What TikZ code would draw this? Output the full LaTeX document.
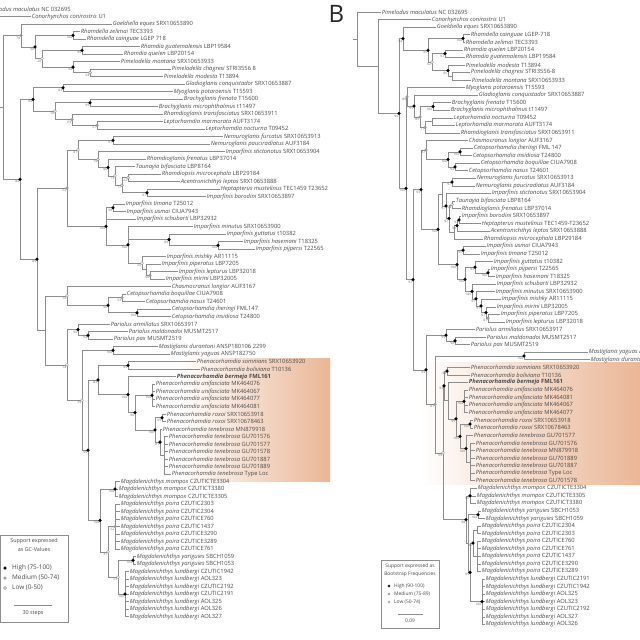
\documentclass[tikz,border=0pt]{standalone}
\usepackage{fontspec}
\setmainfont{Open Sans}
\usetikzlibrary{calc}
\pgfdeclarelayer{fg}
\pgfsetlayers{main,fg}
\definecolor{txt}{HTML}{4A4A4A}
\definecolor{brc}{HTML}{8E8E8E}
\definecolor{medc}{HTML}{9C9C9C}
\definecolor{peach}{RGB}{234,182,150}
\tikzset{
 br/.style={draw=brc,line width=0.55pt},
 leaf/.style={anchor=west,inner sep=0.7pt,font=\fontsize{5.8}{6}\selectfont,text=txt},
 sup/.style={anchor=north east,inner sep=0pt,font=\fontsize{3.2}{3.4}\selectfont,text=txt!85},
 hi/.style={circle,fill=black,draw=black,line width=0.2pt,inner sep=0pt,minimum size=3pt},
 med/.style={circle,fill=medc,draw=medc,line width=0.2pt,inner sep=0pt,minimum size=3pt},
 lo/.style={circle,fill=white,draw=brc,line width=0.4pt,inner sep=0pt,minimum size=3pt},
 lghead/.style={font=\fontsize{5.4}{6}\selectfont,text=txt,inner sep=0pt},
 lgitem/.style={font=\fontsize{6.4}{7}\selectfont,text=txt,inner sep=0pt,anchor=west},
 lgheadb/.style={font=\fontsize{4.9}{5.5}\selectfont,text=txt,inner sep=0pt},
 lgitemb/.style={font=\fontsize{4.9}{5.5}\selectfont,text=txt,inner sep=0pt,anchor=west},
 lgbox/.style={draw=brc,line width=0.6pt},
}
\newcommand\lf[5]{\coordinate (#1) at (#2,#3); \node[leaf] (#1t) at (#1) {\textit{#4} #5};}
\newcommand\lfb[5]{\coordinate (#1) at (#2,#3); \node[leaf] (#1t) at (#1) {\textbf{\textit{#4} #5}};}
\newcommand\nd[4]{%
  \gdef\fc{}%
  \foreach \ch in {#4}{\ifx\fc\empty\xdef\fc{\ch}\fi\xdef\lc{\ch}}%
  \coordinate (#1mid) at ($(\fc)!0.5!(\lc)$);
  \coordinate (#1) at (#2,0 |- #1mid);
  \foreach \ch in {#4}{\draw[br] (#1) |- (\ch);}%
  \ifx\relax#3\relax\else
  \begin{pgfonlayer}{fg}
    \ifnum#3<\tlo\relax \node[lo] (#1m) at (#1) {};%
    \else\ifnum#3<\thi\relax \node[med] (#1m) at (#1) {};%
    \else \node[hi] (#1m) at (#1) {};\fi\fi
    \node[sup] (#1s) at ([xshift=-0.7pt,yshift=-1pt]#1) {#3};
  \end{pgfonlayer}\fi}
\begin{document}
\begin{tikzpicture}[x=1pt,y=-1pt]
\useasboundingbox (0,0) rectangle (640,640);
\fill[white] (0,0) rectangle (640,640);
% highlight boxes
\fill[left color=white,right color=peach] (178,358) rectangle (330,481);
\fill[left color=white,right color=peach] (420,362) rectangle (640,484);
% ================= LEFT TREE =================
\begin{scope}[y=-7.5pt,yshift=-1.5pt]
\def\tlo{50}\def\thi{75}
\lf{a1}{-16}{1}{Pimelodus maculatus}{NC 032695}
\lf{a2}{31}{2}{Conorhynchos conirostris}{U1}
\lf{a3}{112}{3}{Goeldiella eques}{SRX10653890}
\lf{a4}{80}{4}{Rhamdella zelimai}{TEC3393}
\lf{a5}{86}{5}{Rhamdella cainguae}{LGEP 718}
\lf{a6}{140}{6}{Rhamdia guatemalensis}{LBP19584}
\lf{a7}{123}{7}{Rhamdia quelen}{LBP20154}
\lf{a8}{120}{8}{Pimelodella montana}{SRX10653933}
\lf{a9}{171}{9}{Pimelodella chagresi}{STRI3556 8}
\lf{a10}{163}{10}{Pimelodella modesta}{T13894}
\lf{a11}{185}{11}{Gladioglanis conquistador}{SRX10653887}
\lf{a12}{173}{12}{Myoglanis potaroensis}{T15593}
\lf{a13}{183}{13}{Brachyglanis frenata}{T15600}
\lf{a14}{158}{14}{Brachyglanis microphthalmus}{t11497}
\lf{a15}{163}{15}{Rhamdioglanis transfasciatus}{SRX10653911}
\lf{a16}{163}{16}{Leptorhamdia marmorata}{AUFT3174}
\lf{a17}{205}{17}{Leptorhamdia nocturna}{T09452}
\lf{a18}{223}{18}{Nemuroglanis furcatus}{SRX10653913}
\lf{a19}{210}{19}{Nemuroglanis pauciradiatus}{AUF3184}
\lf{a20}{225}{20}{Imparfinis stictonotus}{SRX10653904}
\lf{a21}{146}{21}{Rhamdioglanis frenatus}{LBP37014}
\lf{a22}{135}{22}{Taunayia bifasciata}{LBP8164}
\lf{a23}{161}{23}{Rhamdiopsis microcephala}{LBP29184}
\lf{a24}{180}{24}{Acentronichthys leptos}{SRX10653888}
\lf{a25}{220}{25}{Heptapterus mustelinus}{TEC1459 T23652}
\lf{a26}{206}{26}{Imparfinis borodini}{SRX10653897}
\lf{a27}{125}{27}{Imparfinis timana}{T25012}
\lf{a28}{126}{28}{Imparfinis usmai}{CIUA7943}
\lf{a29}{136}{29}{Imparfinis schubarti}{LBP32932}
\lf{a30}{193}{30}{Imparfinis minutus}{SRX10653900}
\lf{a31}{226}{31}{Imparfinis guttatus}{t10382}
\lf{a32}{243}{32}{Imparfinis hasemani}{T18325}
\lf{a33}{255}{33}{Imparfinis pijpersi}{T22565}
\lf{a34}{166}{34}{Imparfinis mishky}{AR11115}
\lf{a35}{161}{35}{Imparfinis piperatus}{LBP7205}
\lf{a36}{178}{36}{Imparfinis lepturus}{LBP32018}
\lf{a37}{165}{37}{Imparfinis mirini}{LBP32005}
\lf{a38}{171}{38}{Chasmocranus longior}{AUF3167}
\lf{a39}{126}{39}{Cetopsorhamdia boquillae}{CIUA7908}
\lf{a40}{145}{40}{Cetopsorhamdia nasus}{T24601}
\lf{a41}{171}{41}{Cetopsorhamdia iheringi}{FML147}
\lf{a42}{171}{42}{Cetopsorhamdia insidiosa}{T24800}
\lf{a43}{110}{43}{Pariolus armillatus}{SRX10653917}
\lf{a44}{128}{44}{Pariolus maldonadoi}{MUSMT2517}
\lf{a45}{113}{45}{Pariolus pax}{MUSMT2519}
\lf{a46}{158}{46}{Mastiglanis durantoni}{ANSP180106 2299}
\lf{a47}{170}{47}{Mastiglanis yaguas}{ANSP182750}
\lf{a48}{196}{48}{Phenacorhamdia somnians}{SRX10653920}
\lf{a49}{200}{49}{Phenacorhamdia boliviana}{T10136}
\lfb{a50}{176}{50}{Phenacorhamdia bermejo}{FML161}
\foreach \i/\ac in {51/MK464076,52/MK464067,53/MK464077,54/MK464081}{\lf{a\i}{155}{\i}{Phenacorhamdia unifasciata}{\ac}}
\lf{a55}{166}{55}{Phenacorhamdia roxoi}{SRX10653918}
\lf{a56}{166}{56}{Phenacorhamdia roxoi}{SRX10678463}
\lf{a57}{162}{57}{Phenacorhamdia tenebrosa}{MN879918}
\foreach \i/\ac in {58/GU701576,59/GU701577,60/GU701578,61/GU701887,62/GU701889}{\lf{a\i}{168}{\i}{Phenacorhamdia tenebrosa}{\ac}}
\lf{a63}{171}{63}{Phenacorhamdia tenebrosa}{Type Loc}
\lf{a64}{120}{64}{Magdalenichthys mompox}{CZUTICTE3304}
\lf{a65}{118}{65}{Magdalenichthys mompox}{CZUTICT3380}
\lf{a66}{118}{66}{Magdalenichthys mompox}{CZUTICTE3305}
\foreach \i/\ac in {67/CZUTIC2303,68/CZUTIC2304,69/CZUTICE760,70/CZUTIC1437,71/CZUTICE3290,72/CZUTICE3289,73/CZUTICE761}{\lf{a\i}{120}{\i}{Magdalenichthys poira}{\ac}}
\lf{a74}{136}{74}{Magdalenichthys yariguies}{SBCH1059}
\lf{a75}{136}{75}{Magdalenichthys yariguies}{SBCH1053}
\foreach \i/\ac in {76/CZUTIC1942,77/AOL323,78/CZUTIC2192,79/CZUTIC2191,80/AOL325,81/AOL326,82/AOL327}{\lf{a\i}{129}{\i}{Magdalenichthys lundbergi}{\ac}}
% internal nodes
\nd{Rh}{73}{100}{a4,a5}
\nd{Rd}{82}{99}{a6,a7}
\nd{Pm2}{90}{24}{a9,a10}
\nd{Pm}{73}{94}{a8,Pm2}
\nd{N20}{42}{20}{Rd,Pm}
\nd{N98}{35}{98}{Rh,N20}
\nd{N70}{21}{70}{a3,N98}
\nd{N83}{63}{83}{a11,a12}
\nd{Br}{90}{99}{a13,a14}
\nd{Le}{97}{57}{a16,a17}
\nd{N69}{72}{69}{a15,Le}
\nd{N18}{55}{18}{Br,N69}
\nd{N80}{33}{80}{N83,N18}
\nd{Nm}{113}{91}{a18,a19}
\nd{N97c}{147}{97}{a25,a26}
\nd{N22}{128}{22}{a23,a24}
\nd{N17}{122}{17}{N22,N97c}
\nd{N13}{115}{13}{a22,N17}
\nd{N80c}{108}{80}{a21,N13}
\nd{N19}{98}{19}{a20,N80c}
\nd{N41}{78}{41}{Nm,N19}
\nd{TU}{113}{98}{a27,a28}
\nd{Hp}{218}{100}{a32,a33}
\nd{N89d}{169}{89}{a31,Hp}
\nd{N60}{150}{60}{a36,a37}
\nd{Npl}{146}{}{a35,N60}
\nd{N26}{142}{26}{a34,Npl}
\nd{N100b}{128}{100}{a30,N89d,N26}
\nd{N100a}{106}{100}{TU,a29,N100b}
\nd{N52}{67}{52}{N41,N100a}
\nd{Cb}{122}{53}{a39,a40}
\nd{Ci}{137}{100}{a41,a42}
\nd{Ce}{108}{96}{Cb,Ci}
\nd{NE14}{67}{14}{a38,Ce}
\nd{Pp}{88}{94}{a44,a45}
\nd{Pa}{78}{95}{a43,Pp}
\nd{Ms}{113}{100}{a46,a47}
\nd{Sb}{128}{99}{a48,a49}
\nd{Un}{152}{100}{a51,a52,a53,a54}
\nd{Rx}{162}{99}{a55,a56}
\nd{Tn2}{164}{}{a58,a59,a60,a61,a62,a63}
\nd{Tn}{160}{81}{a57,Tn2}
\nd{RT}{155}{100}{Rx,Tn}
\nd{UR}{135}{96}{Un,RT}
\nd{BU}{128}{100}{a50,UR}
\nd{Bm}{98}{83}{Sb,BU}
\nd{Mo}{115}{100}{a64,a65,a66}
\nd{Po}{115}{52}{a67,a68,a69,a70,a71,a72,a73}
\nd{Ya}{133}{100}{a74,a75}
\nd{Lu}{125}{100}{a76,a77,a78,a79,a80,a81,a82}
\nd{N23}{118}{23}{Ya,Lu}
\nd{N31}{108}{31}{Po,N23}
\nd{Mg}{100}{100}{Mo,N31}
\nd{N99}{88}{99}{Bm,Mg}
\nd{N39}{82}{39}{Ms,N99}
\nd{NP14}{67}{14}{Pa,N39}
\nd{NX}{45}{}{NE14,NP14}
\nd{N89b}{37}{89}{N52,NX}
\nd{N84}{20}{84}{N80,N89b}
\nd{Nx3}{3}{}{N70,N84}
\nd{Nr2}{-3}{}{a2,Nx3}
\nd{Nr}{-40}{}{a1,Nr2}
\end{scope}
% ================= RIGHT TREE =================
\begin{scope}[y=-7.56pt,yshift=-4.44pt]
\def\tlo{75}\def\thi{90}
\lf{b1}{381}{1}{Pimelodus maculatus}{NC 032695}
\lf{b2}{431}{2}{Conorhynchos conirostris}{U1}
\lf{b3}{436}{3}{Goeldiella eques}{SRX10653890}
\lf{b4}{470}{4}{Rhamdella cainguae}{LGEP-718}
\lf{b5}{465}{5}{Rhamdella zelimai}{TEC3393}
\lf{b6}{463}{6}{Rhamdia quelen}{LBP20154}
\lf{b7}{465}{7}{Rhamdia guatemalensis}{LBP19584}
\lf{b8}{465}{8}{Pimelodella modesta}{T13894}
\lf{b9}{470}{9}{Pimelodella chagresi}{STRI3556-8}
\lf{b10}{471}{10}{Pimelodella montana}{SRX10653933}
\lf{b11}{465}{11}{Myoglanis potaroensis}{T15593}
\lf{b12}{478}{12}{Gladioglanis conquistador}{SRX10653887}
\lf{b13}{451}{13}{Brachyglanis frenata}{T15600}
\lf{b14}{450}{14}{Brachyglanis microphthalmus}{t11497}
\lf{b15}{453}{15}{Leptorhamdia nocturna}{T09452}
\lf{b16}{455}{16}{Leptorhamdia marmorata}{AUFT3174}
\lf{b17}{460}{17}{Rhamdioglanis transfasciatus}{SRX10653911}
\lf{b18}{468}{18}{Chasmocranus longior}{AUF3167}
\lf{b19}{473}{19}{Cetopsorhamdia iheringi}{FML 147}
\lf{b20}{472}{20}{Cetopsorhamdia insidiosa}{T24800}
\lf{b21}{480}{21}{Cetopsorhamdia boquillae}{CIUA7908}
\lf{b22}{468}{22}{Cetopsorhamdia nasus}{T24601}
\lf{b23}{476}{23}{Nemuroglanis furcatus}{SRX10653913}
\lf{b24}{475}{24}{Nemuroglanis pauciradiatus}{AUF3184}
\lf{b25}{491}{25}{Imparfinis stictonotus}{SRX10653904}
\lf{b26}{455}{26}{Taunayia bifasciata}{LBP8164}
\lf{b27}{461}{27}{Rhamdioglanis frenatus}{LBP37014}
\lf{b28}{461}{28}{Imparfinis borodini}{SRX10653897}
\lf{b29}{481}{29}{Heptapterus mustelinus}{TEC1459-T23652}
\lf{b30}{490}{30}{Acentronichthys leptos}{SRX10653888}
\lf{b31}{483}{31}{Rhamdiopsis microcephala}{LBP29184}
\lf{b32}{486}{32}{Imparfinis usmai}{CIUA7943}
\lf{b33}{480}{33}{Imparfinis timana}{T25012}
\lf{b34}{493}{34}{Imparfinis guttatus}{t10382}
\lf{b35}{490}{35}{Imparfinis pijpersi}{T22565}
\lf{b36}{495}{36}{Imparfinis hasemani}{T18325}
\lf{b37}{496}{37}{Imparfinis schubarti}{LBP32932}
\lf{b38}{495}{38}{Imparfinis minutus}{SRX10653900}
\lf{b39}{501}{39}{Imparfinis mishky}{AR11115}
\lf{b40}{496}{40}{Imparfinis mirini}{LBP32005}
\lf{b41}{500}{41}{Imparfinis piperatus}{LBP7205}
\lf{b42}{505}{42}{Imparfinis lepturus}{LBP32018}
\lf{b43}{475}{43}{Pariolus armillatus}{SRX10653917}
\lf{b44}{486}{44}{Pariolus maldonadoi}{MUSMT2517}
\lf{b45}{470}{45}{Pariolus pax}{MUSMT2519}
\lf{b46}{588}{46}{Mastiglanis yaguas}{ANSP182750}
\lf{b47}{590}{47}{Mastiglanis durantoni}{ANSP180106 2299}
\lf{b48}{470}{48}{Phenacorhamdia somnians}{SRX10653920}
\lf{b49}{470}{49}{Phenacorhamdia boliviana}{T10136}
\lfb{b50}{468}{50}{Phenacorhamdia bermejo}{FML161}
\foreach \i/\ac in {51/MK464076,52/MK464081,53/MK464067,54/MK464077}{\lf{b\i}{468}{\i}{Phenacorhamdia unifasciata}{\ac}}
\lf{b55}{473}{55}{Phenacorhamdia roxoi}{SRX10653918}
\lf{b56}{473}{56}{Phenacorhamdia roxoi}{SRX10678463}
\lf{b57}{473}{57}{Phenacorhamdia tenebrosa}{GU701577}
\foreach \i/\ac in {58/GU701576,59/MN879918,60/GU701889,61/GU701887,62/Type Loc,63/GU701578}{\lf{b\i}{475}{\i}{Phenacorhamdia tenebrosa}{\ac}}
\lf{b64}{477}{64}{Magdalenichthys mompox}{CZUTICTE3304}
\lf{b65}{476}{65}{Magdalenichthys mompox}{CZUTICTE3305}
\lf{b66}{476}{66}{Magdalenichthys mompox}{CZUTICT3380}
\lf{b67}{481}{67}{Magdalenichthys yariguies}{SBCH1053}
\lf{b68}{485}{68}{Magdalenichthys yariguies}{SBCH1059}
\foreach \i/\ac in {69/CZUTIC2304,70/CZUTIC2303,71/CZUTICE760,72/CZUTICE761,73/CZUTIC1437,74/CZUTICE3290,75/CZUTICE3289}{\lf{b\i}{481}{\i}{Magdalenichthys poira}{\ac}}
\foreach \i/\ac in {76/CZUTIC2191,77/CZUTIC1942,78/AOL325,79/AOL323,80/CZUTIC2192,81/AOL327,82/AOL326}{\lf{b\i}{485}{\i}{Magdalenichthys lundbergi}{\ac}}
% internal nodes
\nd{BRl}{463}{100}{b4,b5}
\nd{BRq}{445}{97}{b6,b7}
\nd{BPc}{452}{}{b9,b10}
\nd{BPm}{448}{95}{b8,BPc}
\nd{BN62}{432}{62}{BRq,BPm}
\nd{BN95}{428}{95}{BRl,BN62}
\nd{BN94}{403}{94}{b3,BN95}
\nd{BBr}{433}{100}{b13,b14}
\nd{BLe}{432}{}{b15,b16}
\nd{BN77}{425}{77}{BLe,b17}
\nd{BN85}{420}{85}{BBr,BN77}
\nd{BN95b}{414}{95}{b12,BN85}
\nd{BN89}{407}{89}{b11,BN95b}
\nd{BCi}{460}{100}{b19,b20}
\nd{BCb}{455}{94}{b21,b22}
\nd{BCe}{448}{100}{BCi,BCb}
\nd{BN87}{426}{87}{b18,BCe}
\nd{BNm}{452}{97}{b23,b24}
\nd{BTR}{452}{54}{b26,b27}
\nd{BHb}{459}{97}{b28,b29}
\nd{BHA}{457}{91}{BHb,b30}
\nd{BN97x}{454}{}{BHA,b31}
\nd{BN97y}{449}{97}{BTR,BN97x}
\nd{BN97z}{446}{97}{b25,BN97y}
\nd{BN93c}{442}{}{BNm,BN97z}
\nd{BUt}{463}{95}{b32,b33}
\nd{BPh}{488}{100}{b35,b36}
\nd{BGu}{475}{93}{b34,BPh}
\nd{BPl}{488}{81}{b41,b42}
\nd{BMi}{486}{97}{b40,BPl}
\nd{BMk}{481}{91}{b39,BMi}
\nd{BMn}{476}{91}{b38,BMk}
\nd{BSc}{472}{100}{b37,BMn}
\nd{BGs}{465}{100}{BGu,BSc}
\nd{BN100i}{457}{100}{BUt,BGs}
\nd{BCl}{438}{100}{BN93c,BN100i}
\nd{BN93}{421}{93}{BN87,BCl}
\nd{BPp}{455}{98}{b44,b45}
\nd{BPa}{446}{99}{b43,BPp}
\nd{BMs}{524}{100}{b46,b47}
\nd{BSb}{447}{94}{b48,b49}
\nd{BUn}{464}{100}{b51,b52,b53,b54}
\nd{BRx}{470}{100}{b55,b56}
\nd{BTn2}{470}{}{b58,b59,b60,b61,b62,b63}
\nd{BTn}{466}{100}{b57,BTn2}
\nd{BRT}{460}{100}{BRx,BTn}
\nd{BUR}{456}{99}{BUn,BRT}
\nd{BBU}{448}{}{b50,BUR}
\nd{BBm}{444}{93}{BSb,BBU}
\nd{BMo}{470}{95}{b64,b65,b66}
\nd{BYa}{478}{100}{b67,b68}
\nd{BP1}{477}{}{b69,b70}
\nd{BPr}{477}{}{b71,b72,b73,b74,b75}
\nd{BPo}{473}{95}{BP1,BPr}
\nd{BLu}{482}{100}{b76,b77,b78,b79,b80,b81,b82}
\nd{BN99m}{470}{99}{BPo,BLu}
\nd{BN71}{468}{}{BYa,BN99m}
\nd{BMg}{466}{98}{BMo,BN71}
\nd{BN59}{443}{59}{BBm,BMg}
\nd{BN87b}{435}{87}{BMs,BN59}
\nd{BN93p}{426}{93}{BPa,BN87b}
\nd{BN97b}{413}{97}{BN93,BN93p}
\nd{BN100}{406}{100}{BN89,BN97b}
\nd{BN94b}{399}{94}{BN94,BN100}
\nd{BN378}{378}{}{b2,BN94b}
\nd{BR0}{357}{}{b1,BN378}
\coordinate (BRstub) at ([xshift=-4pt]BR0);
\draw[br] (BR0) -- (BRstub);
\end{scope}
% panel letter
\node[font=\fontsize{24}{26}\selectfont,text=black!85,inner sep=0pt] (lblB) at (336.5,13.5) {B};
% ---------- left legend ----------
\draw[lgbox] (0.5,535) rectangle (68,622);
\node[lghead] (lgA1) at (34,541) {Support expressed};
\node[lghead] (lgA2) at (34,549) {as GC-Values};
\node[hi] (lgAd1) at (5,568) {};
\node[med] (lgAd2) at (5,578) {};
\node[lo] (lgAd3) at (5,588) {};
\node[lgitem] (lgAt1) at (12,568) {High (75-100)};
\node[lgitem] (lgAt2) at (12,578) {Medium (50-74)};
\node[lgitem] (lgAt3) at (12,588) {Low (0-50)};
\coordinate (lgAs1) at (14,605); \coordinate (lgAs2) at (52,605);
\draw[br] (lgAs1) -- (lgAs2);
\node[lghead] (lgAsc) at (33,613) {30 steps};
% ---------- right legend ----------
\draw[lgbox] (381,560) rectangle (439,628);
\node[lgheadb] (lgB1) at (410,566) {Support expressed as};
\node[lgheadb] (lgB2) at (410,574) {Bootstrap Frequencies};
\node[hi,minimum size=2.4pt] (lgBd1) at (389,586) {};
\node[med,minimum size=2.4pt] (lgBd2) at (389,594) {};
\node[lo,minimum size=2.4pt] (lgBd3) at (389,602) {};
\node[lgitemb] (lgBt1) at (394,586) {High (90-100)};
\node[lgitemb] (lgBt2) at (394,594) {Medium (75-89)};
\node[lgitemb] (lgBt3) at (394,602) {Low (50-74)};
\coordinate (lgBs1) at (398,614); \coordinate (lgBs2) at (423,614);
\draw[br] (lgBs1) -- (lgBs2);
\node[lgheadb] (lgBsc) at (410,621) {0.09};
\end{tikzpicture}
\end{document}
